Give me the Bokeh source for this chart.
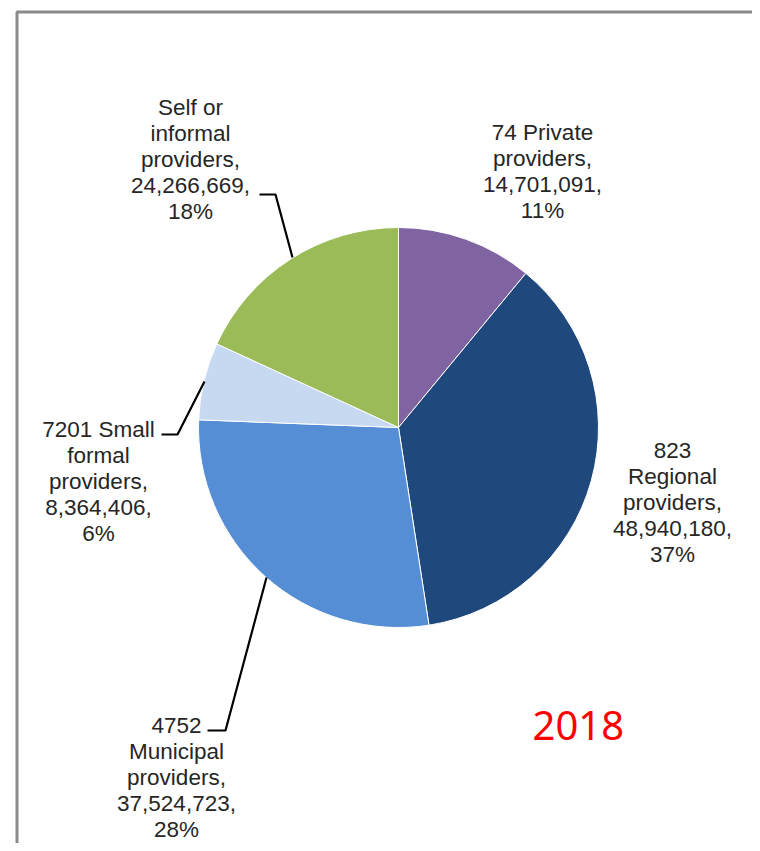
import numpy as np
from bokeh.plotting import figure
from bokeh.models import Range1d, ColumnDataSource
from bokeh.core.properties import value
from bokeh.embed import file_html
from bokeh.resources import INLINE

# ---- data ----
categories = ["74 Private providers", "823 Regional providers", "4752 Municipal providers",
              "7201 Small formal providers", "Self or informal providers"]
values = [14701091, 48940180, 37524723, 8364406, 24266669]
percents = ["11%", "37%", "28%", "6%", "18%"]
label_lines = [
    ["74 Private", "providers,"],
    ["823", "Regional", "providers,"],
    ["4752", "Municipal", "providers,"],
    ["7201 Small", "formal", "providers,"],
    ["Self or", "informal", "providers,"],
]
colors = ["#8064A2", "#1F497D", "#558ED5", "#C6D9F1", "#9BBB59"]
year_label = "2018"

# ---- layout (reference pixel coords) ----
CX, CY, R = 398, 427, 200
def X(px): return px - CX
def Y(py): return CY - py

W, H = 752, 843
p = figure(width=W, height=H, output_backend="svg", toolbar_location=None,
           x_range=Range1d(X(0), X(W)), y_range=Range1d(Y(H), Y(0)),
           min_border=0)
p.axis.visible = False
p.grid.visible = False
p.outline_line_color = None
p.background_fill_color = "white"

# frame
p.line([X(16.5), X(16.5), X(770)], [Y(870), Y(11.5), Y(11.5)],
       line_color="#8a8a8a", line_width=3)

# pie
vals = np.array(values, dtype=float)
frac = vals / vals.sum()
cum = np.concatenate([[0], np.cumsum(frac)])
start = np.pi / 2 - cum[:-1] * 2 * np.pi
end = np.pi / 2 - cum[1:] * 2 * np.pi
src = ColumnDataSource(dict(start=start, end=end, color=colors))
p.wedge(x=0, y=0, radius=R, start_angle="start", end_angle="end",
        direction="clock", fill_color="color", line_color="white",
        line_width=1, source=src)

# labels (x centre, y of first line's cap top)
label_pos = [(542, 125), (672, 443), (176, 718), (98, 422), (190, 100)]
texts = []
for lines, v, pc in zip(label_lines, values, percents):
    texts.append("\n".join(lines + [f"{v:,},", pc]))
lx = [X(a) for a, b in label_pos]
ly = [Y(b - 6) for a, b in label_pos]
p.text(x=lx, y=ly, text=texts, text_align="center", text_baseline="top",
       text_font=value("Liberation Sans"), text_font_size="22.5px",
       text_color="#262626", text_line_height=1.04)

# leader lines
leaders = [
    ([292, 275, 259], [257, 194, 194]),
    ([204, 177, 161], [381, 434, 434]),
    ([266, 225, 207], [577, 730, 730]),
]
for xs, ys in leaders:
    p.line([X(a) for a in xs], [Y(b) for b in ys], line_color="black", line_width=2.2)

# year
p.text(x=[X(532)], y=[Y(725)], text=[year_label], text_align="left",
       text_baseline="alphabetic", text_font=value("Noto Sans"),
       text_font_size="40px", text_color="#FF0000")

open("out.html", "w").write(file_html(p, INLINE))
